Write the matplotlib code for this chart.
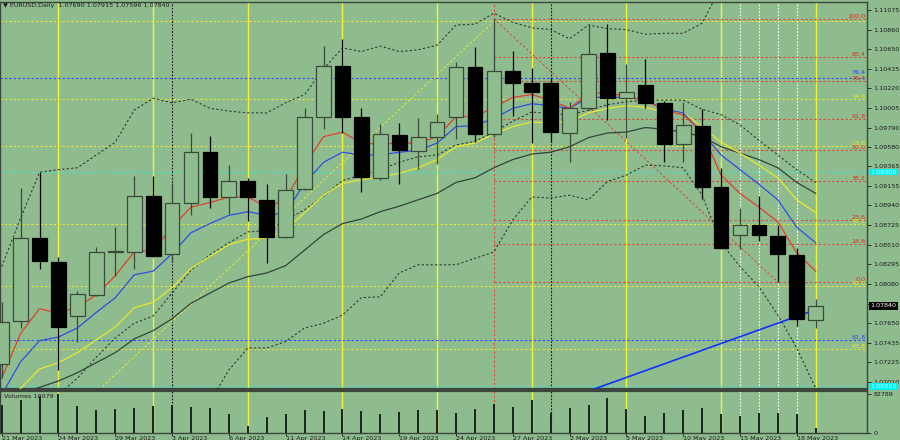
import matplotlib
matplotlib.use("Agg")
import matplotlib.pyplot as plt
import matplotlib.transforms as mtransforms
import pandas as pd

# daily bars, 21 Mar .. 19 May 2023
dates = pd.bdate_range("2023-03-21", "2023-05-19")

opens = [1.0720, 1.0767, 1.0858, 1.0832, 1.0773, 1.0796, 1.0843, 1.0843, 1.0904, 1.0841,
         1.0897, 1.0952, 1.0903, 1.0921, 1.0900, 1.0859, 1.0912, 1.0991, 1.1046, 1.0991,
         1.0924, 1.0971, 1.0953, 1.0969, 1.0991, 1.1045, 1.0972, 1.1041, 1.1028, 1.1028,
         1.0973, 1.1000, 1.1061, 1.1011, 1.1026, 1.1006, 1.0961, 1.0981, 1.0914, 1.0861,
         1.0873, 1.0860, 1.0840, 1.07690]
highs = [1.0788, 1.0913, 1.0930, 1.0838, 1.0800, 1.0848, 1.0870, 1.0926, 1.0926, 1.0918,
         1.0973, 1.0970, 1.0938, 1.0924, 1.0917, 1.0928, 1.1000, 1.1068, 1.1076, 1.1000,
         1.0983, 1.0984, 1.0989, 1.0994, 1.1051, 1.1067, 1.1098, 1.1063, 1.1044, 1.1034,
         1.1007, 1.1092, 1.1092, 1.1048, 1.1054, 1.1008, 1.1007, 1.0999, 1.0935, 1.0891,
         1.0904, 1.0873, 1.0847, 1.07915]
lows = [1.0705, 1.0760, 1.0824, 1.0714, 1.0745, 1.0795, 1.0817, 1.0824, 1.0838, 1.0832,
        1.0883, 1.0891, 1.0885, 1.0877, 1.0831, 1.0858, 1.0911, 1.0977, 1.0973, 1.0909,
        1.0922, 1.0917, 1.0934, 1.0939, 1.0967, 1.0963, 1.0969, 1.0992, 1.0962, 1.0963,
        1.0941, 1.0998, 1.0987, 1.0968, 1.1000, 1.0941, 1.0941, 1.0901, 1.0846, 1.0846,
        1.0855, 1.0810, 1.0762, 1.07596]
closes = [1.0766, 1.0858, 1.0833, 1.0761, 1.0797, 1.0843, 1.0844, 1.0904, 1.0839, 1.0897,
          1.0952, 1.0903, 1.0921, 1.0903, 1.0859, 1.0911, 1.0991, 1.1046, 1.0991, 1.0925,
          1.0972, 1.0954, 1.0969, 1.0985, 1.1045, 1.0972, 1.1041, 1.1028, 1.1018, 1.0974,
          1.1000, 1.1059, 1.1011, 1.1018, 1.1006, 1.0961, 1.0982, 1.0914, 1.0847, 1.0873,
          1.0861, 1.0841, 1.0770, 1.07840]
volumes = [58800, 69700, 78400, 82789, 56600, 49500, 50100, 53000, 56600, 58800,
           55100, 52300, 41400, 15300, 34900, 40700, 49500, 45800, 51600, 45800,
           41400, 45100, 49500, 48600, 42000, 51600, 62500, 55100, 69700, 42000,
           53800, 60400, 74700, 51600, 35500, 42000, 49500, 53800, 40700, 35500,
           42000, 42900, 40700, 10079]

# indicator lines
ma_red = [1.0705, 1.0754, 1.0781, 1.0776, 1.0783, 1.0796, 1.0817, 1.0843, 1.0845, 1.0870,
          1.0892, 1.0897, 1.0903, 1.0903, 1.0892, 1.0900, 1.0938, 1.0969, 1.0974, 1.0962,
          1.0961, 1.0962, 1.0962, 1.0969, 1.0991, 1.0991, 1.1001, 1.1012, 1.1015, 1.1009,
          1.1000, 1.1016, 1.1017, 1.1013, 1.1009, 1.0998, 1.0993, 1.0974, 1.0927, 1.0907,
          1.0892, 1.0876, 1.0842, 1.0822]
ma_blue = [1.0687, 1.0723, 1.0746, 1.0750, 1.0760, 1.0777, 1.0793, 1.0818, 1.0822, 1.0841,
           1.0864, 1.0874, 1.0883, 1.0887, 1.0883, 1.0886, 1.0918, 1.0941, 1.0952, 1.0949,
           1.0949, 1.0952, 1.0954, 1.0962, 1.0980, 1.0981, 1.0989, 1.1000, 1.1005, 1.1003,
           1.1000, 1.1012, 1.1012, 1.1012, 1.1009, 1.0999, 1.0995, 1.0973, 1.0949, 1.0933,
           1.0917, 1.0900, 1.0870, 1.0853]
ma_yellow = [1.0670, 1.0694, 1.0715, 1.0722, 1.0733, 1.0747, 1.0761, 1.0782, 1.0788, 1.0804,
             1.0825, 1.0838, 1.0851, 1.0857, 1.0858, 1.0867, 1.0886, 1.0905, 1.0918, 1.0922,
             1.0925, 1.0929, 1.0935, 1.0944, 1.0958, 1.0962, 1.0972, 1.0980, 1.0985, 1.0984,
             1.0986, 1.0995, 1.1000, 1.1003, 1.1001, 1.0996, 1.0995, 1.0980, 1.0963, 1.0951,
             1.0938, 1.0924, 1.0900, 1.0886]
ma_dark = [1.0681, 1.0689, 1.0695, 1.0702, 1.0711, 1.0722, 1.0733, 1.0748, 1.0757, 1.0770,
           1.0787, 1.0798, 1.0809, 1.0816, 1.0820, 1.0828, 1.0845, 1.0862, 1.0874, 1.0879,
           1.0887, 1.0893, 1.0900, 1.0907, 1.0919, 1.0924, 1.0935, 1.0944, 1.0950, 1.0952,
           1.0958, 1.0968, 1.0973, 1.0974, 1.0979, 1.0977, 1.0974, 1.0969, 1.0958, 1.0951,
           1.0944, 1.0935, 1.0919, 1.0907]
bb_upper = [1.0827, 1.0880, 1.0930, 1.0933, 1.0935, 1.0949, 1.0963, 1.0998, 1.1011, 1.1006,
            1.1010, 1.1000, 1.0997, 1.0995, 1.0995, 1.1006, 1.1015, 1.1043, 1.1066, 1.1062,
            1.1068, 1.1062, 1.1064, 1.1069, 1.1091, 1.1092, 1.1104, 1.1094, 1.1088, 1.1086,
            1.1076, 1.1091, 1.1087, 1.1086, 1.1081, 1.1082, 1.1082, 1.1093, 1.1133, 1.1137,
            1.1126, 1.1124, 1.1127, 1.1145]
bb_mid = [1.0648, 1.0659, 1.0676, 1.0687, 1.0705, 1.0728, 1.0749, 1.0765, 1.0773, 1.0798,
          1.0823, 1.0840, 1.0853, 1.0865, 1.0866, 1.0878, 1.0889, 1.0904, 1.0921, 1.0927,
          1.0933, 1.0941, 1.0947, 1.0949, 1.0960, 1.0964, 1.0974, 1.0986, 1.0996, 1.0994,
          1.0993, 1.0998, 1.1004, 1.1007, 1.1009, 1.1009, 1.1009, 1.0999, 1.0993, 1.0982,
          1.0965, 1.0949, 1.0933, 1.0919]
bb_lower = [1.0470, 1.0439, 1.0421, 1.0441, 1.0476, 1.0507, 1.0535, 1.0533, 1.0535, 1.0590,
            1.0636, 1.0679, 1.0714, 1.0738, 1.0738, 1.0745, 1.0760, 1.0765, 1.0774, 1.0793,
            1.0794, 1.0820, 1.0829, 1.0829, 1.0829, 1.0836, 1.0843, 1.0878, 1.0903, 1.0902,
            1.0905, 1.0900, 1.0920, 1.0927, 1.0938, 1.0937, 1.0935, 1.0905, 1.0853, 1.0827,
            1.0805, 1.0774, 1.0738, 1.0694]

# drawings
red_fib_x = [26, 41]            # 26 Apr high -> 17 May low
red_fib_y = [1.1098, 1.0810]
red_levels = [0.0, 14.6, 23.6, 38.2, 50.0, 61.8, 76.4, 85.4, 100.0]
yel_fib_x = [-4, 26]            # 15 Mar low -> 26 Apr high
yel_fib_y = [1.0516, 1.1095]
yel_levels = [0.0, 14.6, 23.6, 38.2, 50.0, 61.8]
blue_labels = ["76.4", "61.8"]
blue_prices = [1.1033, 1.0747]
cyan_prices = [1.0930, 1.0696]
cyan_labels = ["1.09300", "1.06960"]
trend_x = [31.0, 43.0]
trend_y = [1.0691, 1.0780]
marked_days = ["2023-05-15", "2023-05-16", "2023-05-17", "2023-05-18"]
price_ticks = [1.11075, 1.10860, 1.10650, 1.10435, 1.10220, 1.10005, 1.09790, 1.09580,
               1.09365, 1.09155, 1.08940, 1.08725, 1.08510, 1.08295, 1.08080, 1.07865,
               1.07650, 1.07435, 1.07225, 1.07010]

bg = "#8fbc8f"
ink = "#1c1c1c"
fs = 4.6
x = list(range(len(dates)))
fridays = [i for i, d in enumerate(dates) if d.weekday() == 4]
month_starts = [i for i in range(1, len(dates)) if dates[i].month != dates[i - 1].month]
marks = [list(dates).index(pd.Timestamp(d)) for d in marked_days]

W, H = 900.0, 440.0
fig = plt.figure(figsize=(9, 4.4), dpi=100, facecolor=bg)
ax = fig.add_axes([0, 1 - 389 / H, 867 / W, 387 / H], facecolor=bg)
axv = fig.add_axes([0, 1 - 433 / H, 867 / W, 42 / H], facecolor=bg, sharex=ax)

dot = (0, (2, 2))
for a in (ax, axv):
    for i in fridays:
        a.axvline(i, color="#f2f23a", lw=1.0, zorder=1)
    for i in month_starts:
        a.axvline(i, color="#111111", lw=0.8, ls=(0, (1.5, 1.5)), zorder=1)
    for i in marks:
        a.axvline(i, color="white", lw=0.8, ls=(0, (1.5, 1.5)), zorder=1)
    a.axvline(red_fib_x[0], color="#d94c3c", lw=0.8, ls=dot, zorder=1)

# fib levels
btr = mtransforms.blended_transform_factory(ax.transAxes, ax.transData)
up = mtransforms.offset_copy(btr, fig=fig, y=2.5, units="points")
rng = red_fib_y[0] - red_fib_y[1]
for lv in red_levels:
    p = red_fib_y[1] + lv / 100 * rng
    ax.hlines(p, red_fib_x[0], 50, color="#d94c3c", lw=0.8, ls=dot, zorder=2)
    ax.text(0.9985, p, f"{lv:.1f}", transform=btr, ha="right", va="bottom",
            fontsize=fs, color="#e02a1a")
yrng = yel_fib_y[1] - yel_fib_y[0]
for lv in yel_levels:
    p = yel_fib_y[1] - lv / 100 * yrng
    ax.axhline(p, color="#e6e632", lw=0.8, ls=dot, zorder=2)
    if lv > 0:
        ax.text(0.9985, p, f"{lv:.1f}", transform=btr, ha="right", va="bottom",
                fontsize=fs, color="#e8e820")
for lab, p in zip(blue_labels, blue_prices):
    ax.axhline(p, color="#2a4cff", lw=0.8, ls=dot, zorder=2)
    ax.text(0.9985, p, lab, transform=up if lab == "76.4" else btr, ha="right",
            va="bottom", fontsize=fs, color="#2a40ff")
for lab, p in zip(cyan_labels, cyan_prices):
    ax.axhline(p, color="#40e0e0", lw=0.8, ls=dot, zorder=2)
    ax.text(1.004, p, lab, transform=btr, ha="left", va="center", fontsize=fs,
            color="#d8ffff", bbox=dict(boxstyle="square,pad=0.1", fc="#00f0f0", ec="none"))

ax.plot(red_fib_x, red_fib_y, color="#d94c3c", lw=0.8, ls=dot, zorder=2)
ax.plot(yel_fib_x, yel_fib_y, color="#e6e632", lw=0.8, ls=dot, zorder=2)

# indicators
for band in (bb_upper, bb_mid, bb_lower):
    ax.plot(x, band, color="#2e3a2e", lw=0.8, ls=dot, zorder=3)
ax.plot(x, ma_dark, color="#34443a", lw=0.9, zorder=3)
ax.plot(x, ma_yellow, color="#e8e82a", lw=0.9, zorder=3)
ax.plot(x, ma_blue, color="#2d4fe6", lw=0.9, zorder=3)
ax.plot(x, ma_red, color="#e0402a", lw=0.9, zorder=3)
ax.plot(trend_x, trend_y, color="#1030ff", lw=1.2, zorder=3)

# candles
for i in x:
    o, h, l, c = opens[i], highs[i], lows[i], closes[i]
    bull = c >= o
    edge = "#3a4a3a" if bull else "black"
    ax.vlines(i, l, h, color=edge, lw=0.9, zorder=4)
    ax.bar(i, max(abs(c - o), 0.00003), bottom=min(o, c), width=0.78,
           color=bg if bull else "black", edgecolor=edge, linewidth=0.9, zorder=5)

ax.set_xlim(-0.09, 45.71)
ax.set_ylim(1.06932, 1.11162)
ax.yaxis.tick_right()
ax.set_yticks(price_ticks)
# the 1.07865 label sits under the current-price box
ax.set_yticklabels(["" if abs(t - closes[-1]) < 0.0005 else f"{t:.5f}" for t in price_ticks])
ax.tick_params(axis="y", length=3, width=0.6, pad=1.5, labelsize=fs, colors=ink)
ax.tick_params(axis="x", bottom=False, labelbottom=False)
ax.text(1.004, closes[-1], f"{closes[-1]:.5f}", transform=btr, ha="left", va="center",
        fontsize=fs, color="white", zorder=10,
        bbox=dict(boxstyle="square,pad=0.25", fc="black", ec="none"))
ax.text(0.004, 0.99, "▼ EURUSD,Daily  " + " ".join(f"{v:.5f}" for v in
        (opens[-1], highs[-1], lows[-1], closes[-1])),
        transform=ax.transAxes, ha="left", va="center", fontsize=fs, color=ink)

# volumes
axv.vlines(x, 0, volumes, color="#1a241a", lw=1.4, zorder=4)
axv.set_ylim(0, 89300)
axv.yaxis.tick_right()
axv.set_yticks([0, max(volumes)])
axv.set_yticklabels(["0", str(max(volumes))])
axv.tick_params(axis="y", length=3, width=0.6, pad=1.5, labelsize=fs, colors=ink)
ticks = list(range(0, len(dates), 3))
axv.set_xticks(ticks)
axv.set_xticklabels([f"{dates[i].day} {dates[i].strftime('%b %Y')}" for i in ticks])
axv.tick_params(axis="x", length=2, width=0.6, pad=0.5, labelsize=fs, colors=ink)
for t in axv.get_xticklabels():
    t.set_ha("left")
axv.text(0.005, 0.93, f"Volumes {volumes[-1]}", transform=axv.transAxes,
         ha="left", va="top", fontsize=fs, color=ink)

for a in (ax, axv):
    for s in a.spines.values():
        s.set_color("#3c463c")
        s.set_linewidth(1.0)
ax.spines["bottom"].set_linewidth(1.6)
axv.spines["top"].set_linewidth(1.6)

fig.savefig("out.png", dpi=100, facecolor=bg)
